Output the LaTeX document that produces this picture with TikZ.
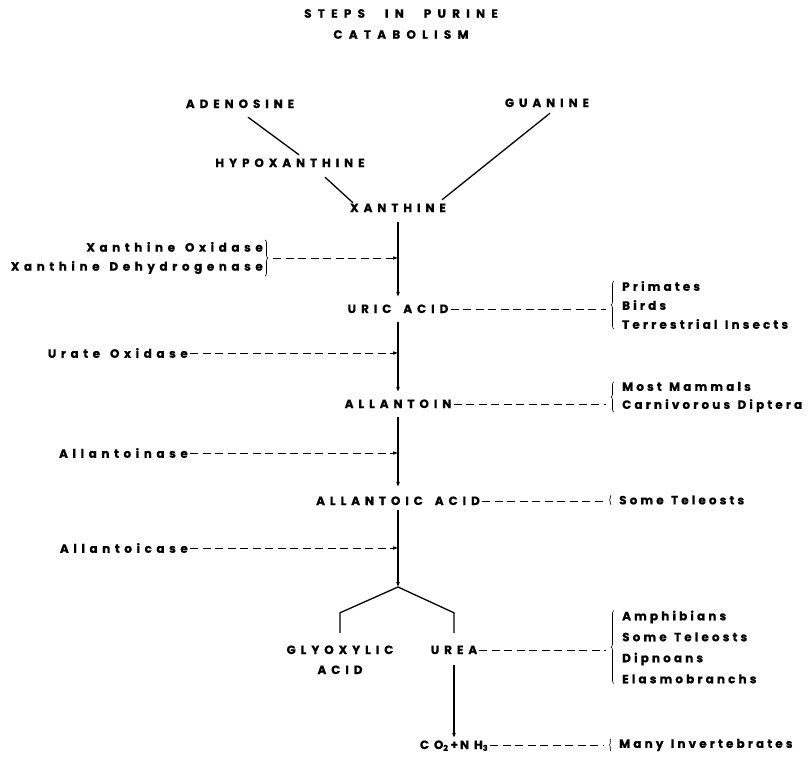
\documentclass[tikz,border=0pt]{standalone}
\usepackage{fontspec}
\setmainfont{Poppins}[LetterSpace=38, WordSpace=1.4, BoldFeatures={FakeBold=0.6}]
\newfontfamily\capsfont{Poppins}[LetterSpace=41, WordSpace=1.6, BoldFeatures={FakeBold=0.6}]
\newfontfamily\taxafont{Poppins}[LetterSpace=26, WordSpace=1.3, BoldFeatures={FakeBold=0.6}]
\newfontfamily\titlefont{Poppins}[LetterSpace=52, BoldFeatures={FakeBold=0.6}]
\usetikzlibrary{arrows.meta,decorations.pathreplacing,positioning}
\newcommand\labfont{\capsfont\bfseries\fontsize{12}{19}\selectfont}
\begin{document}
\begin{tikzpicture}[x=1pt,y=-1pt,
   chem/.style={font=\labfont, inner sep=2pt, text height=8pt, text depth=0pt},
   enzyme/.style={font=\bfseries\fontsize{12}{19}\selectfont, anchor=east,
                  inner sep=2pt, align=right},
   taxa/.style={font=\taxafont\bfseries\fontsize{12}{#1}\selectfont, anchor=west,
                align=left, inner ysep=0pt, inner xsep=8pt},
   taxa/.default=19,
   line/.style={line width=1.3pt},
   react/.style={line, -{Triangle[length=5pt,width=3.2pt]},
                 shorten <=7pt, shorten >=6pt},
   enz/.style={line width=0.9pt, dash pattern=on 8pt off 4.5pt,
               -{Triangle[length=5pt,width=3.2pt]}},
   link/.style={line width=0.9pt, dash pattern=on 8pt off 4.5pt, shorten >=8pt},
   brace/.style={decorate, decoration={brace, amplitude=#1}, line width=0.6pt},
   brace/.default=3pt]
\useasboundingbox (0,0) rectangle (809,763);

\node[font=\titlefont\bfseries\fontsize{12}{21}\selectfont, align=center] (title) at (401,24)
    {STEPS\hspace{20pt}IN\hspace{20pt}PURINE\\CATABOLISM};

\node[chem] (adenosine) at (240,104) {ADENOSINE};
\node[chem] (guanine)   at (547,103) {GUANINE};
\node[chem] (hypox)     at (290,163) {HYPOXANTHINE};
\node[chem] (xanthine)  at (398,208) {XANTHINE};
\node[chem] (uric)      at (398,309) {URIC ACID};
\node[chem] (allantoin) at (398,404) {ALLANTOIN};
\node[chem] (allantoic) at (398,501) {ALLANTOIC ACID};
\coordinate (fork) at (398,587);
\node[chem] (glyoxylic) at (340,650) {GLYOXYLIC};
\node[chem] (glyacid)   at (340,670) {ACID};
\node[chem] (urea)      at (454,650) {UREA};
\node[chem] (co2)       at (454,745) {CO\textsubscript{2}\,+\,NH\textsubscript{3}};

\draw[line] ([shift={(8,7)}]adenosine.south) -- ([shift={(9,-2)}]hypox.north);
\draw[line] ([shift={(35,8)}]hypox.south) -- ([shift={(-45,1)}]xanthine.north);
\draw[line] ([shift={(3,4)}]guanine.south) -- ([shift={(44,-2)}]xanthine.north);

\draw[react, shorten <=8pt] (xanthine) -- (uric);
\draw[react] (uric) -- (allantoin);
\draw[react, shorten >=8pt] (allantoin) -- (allantoic);
\draw[react, shorten <=3pt, shorten >=0pt] (allantoic) -- (fork);
\draw[line] (fork) -- ([yshift=31pt]glyoxylic.north) -- ([yshift=11pt]glyoxylic.north);
\draw[line] (fork) -- ([yshift=31pt]urea.north) -- ([yshift=11pt]urea.north);
\draw[react, shorten <=9pt, shorten >=1pt] (urea) -- (co2);

% enzymes
\node[enzyme] (xo) at (265,258) {Xanthine Oxidase\\Xanthine Dehydrogenase};
\draw[brace] (xo.north east) -- (xo.south east);
\draw[enz] ([xshift=8pt]xo.east) -- (xo.east -| xanthine.south);
\node[enzyme] (uo) at (190,353) {Urate Oxidase};
\draw[enz] (uo.east) -- (uo.east -| xanthine.south);
\node[enzyme] (ase) at (190,453) {Allantoinase};
\draw[enz] (ase.east) -- (ase.east -| xanthine.south);
\node[enzyme] (icase) at (190,548) {Allantoicase};
\draw[enz] (icase.east) -- (icase.east -| xanthine.south);

% organisms
\node[taxa] (primates) at (614,305) {Primates\\Birds\\Terrestrial Insects};
\node[taxa=18] (mammals) at (614,397) {Most Mammals\\Carnivorous Diptera};
\node[taxa] (teleosts) at (611,500) {Some Teleosts};
\node[taxa=21] (amphibians) at (614,647) {Amphibians\\Some Teleosts\\Dipnoans\\Elasmobranchs};
\node[taxa] (invert) at (611,745) {Many Invertebrates};
\foreach \t in {primates,mammals,amphibians}
  \draw[brace] (\t.south west) -- (\t.north west);
\foreach \t in {teleosts,invert}
  \draw[brace=1.5pt] (\t.south west) -- (\t.north west);

\draw[link] (uric.east) -- (uric.east -| primates.west);
\draw[link] (allantoin.east) -- (allantoin.east -| mammals.west);
\draw[link] (allantoic.east) -- (allantoic.east -| teleosts.west);
\draw[link] (urea.east) -- (urea.east -| amphibians.west);
\draw[link] (co2.east) -- (co2.east -| invert.west);
\end{tikzpicture}
\end{document}
